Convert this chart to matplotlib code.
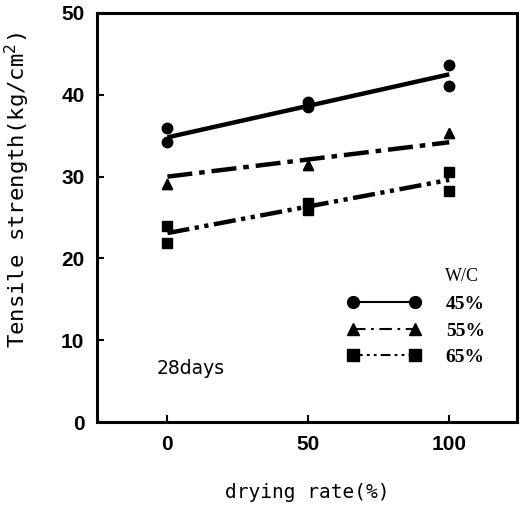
import numpy as np
import matplotlib.pyplot as plt
from matplotlib.lines import Line2D

plt.rcParams['lines.scale_dashes'] = False

# drying rate (%) and measured tensile strength (kg/cm2), two specimens each
drying = [0, 0, 50, 50, 100, 100]
wc45 = [35.9, 34.2, 39.1, 38.5, 43.6, 41.1]
wc55 = [29.1, 29.1, 31.4, 31.4, 35.3, 35.3]
wc65 = [24.0, 21.9, 26.8, 25.9, 30.6, 28.3]

# fitted lines (value at 0 % and at 100 %)
fit_x = [0, 100]
fit45 = [34.8, 42.5]
fit55 = [30.0, 34.2]
fit65 = [23.1, 29.6]

labels = ['45%', '55%', '65%']
markers = ['o', '^', 's']
dash_big = [None, (18, 5, 4, 5), (16, 4, 3, 4, 3, 4)]
dash_small = [None, (9, 4, 2, 4), (7, 3, 2, 3, 2, 3)]

fig = plt.figure(figsize=(5.2, 5.11), dpi=100)
ax = fig.add_axes([0.1865, 0.174, 0.8075, 0.8006])

series = [wc45, wc55, wc65]
fits = [fit45, fit55, fit65]
for vals, fit, m, d in zip(series, fits, markers, dash_big):
    ax.plot(drying, vals, linestyle='none', marker=m, color='black', markersize=7.5)
    line, = ax.plot(fit_x, fit, color='black', linewidth=3.2, solid_capstyle='butt',
                    dash_capstyle='butt')
    if d is not None:
        line.set_dashes(d)

handles = []
for m, d in zip(markers, dash_small):
    h = Line2D([], [], color='black', marker=m, markersize=8.5, linewidth=1.5)
    if d is not None:
        h.set_dashes(d)
    handles.append(h)
ax.legend(handles, labels, loc='upper left', bbox_to_anchor=(0.555, 0.352), frameon=False,
          handlelength=3.75, handletextpad=1.3, labelspacing=0.45, numpoints=2,
          prop={'family': 'Liberation Serif', 'weight': 'bold', 'size': 14})
ax.text(0.829, 0.355, 'W/C', transform=ax.transAxes, fontsize=13,
        family='Liberation Serif', ha='left', va='center')
ax.text(0.143, 0.132, '28days', transform=ax.transAxes, fontsize=13.5,
        family='DejaVu Sans', ha='left', va='center')

ax.set_xlim(-25, 124)
ax.set_ylim(0, 50)
ax.set_xticks([0, 50, 100])
ax.set_yticks([0, 10, 20, 30, 40, 50])
ax.tick_params(direction='in', length=5, width=1.5, pad=9)
for lab in ax.get_xticklabels() + ax.get_yticklabels():
    lab.set_family('Liberation Sans')
    lab.set_weight('bold')
    lab.set_fontsize(15)
for s in ax.spines.values():
    s.set_linewidth(2.2)

ax.set_xlabel('drying rate(%)', family='DejaVu Sans Mono', fontsize=14, labelpad=21)
ax.set_ylabel('Tensile strength(kg/cm$^2$)', family='DejaVu Sans Mono', fontsize=16)
ax.yaxis.set_label_coords(-0.155, 0.567)

fig.savefig('out.png', dpi=100)
